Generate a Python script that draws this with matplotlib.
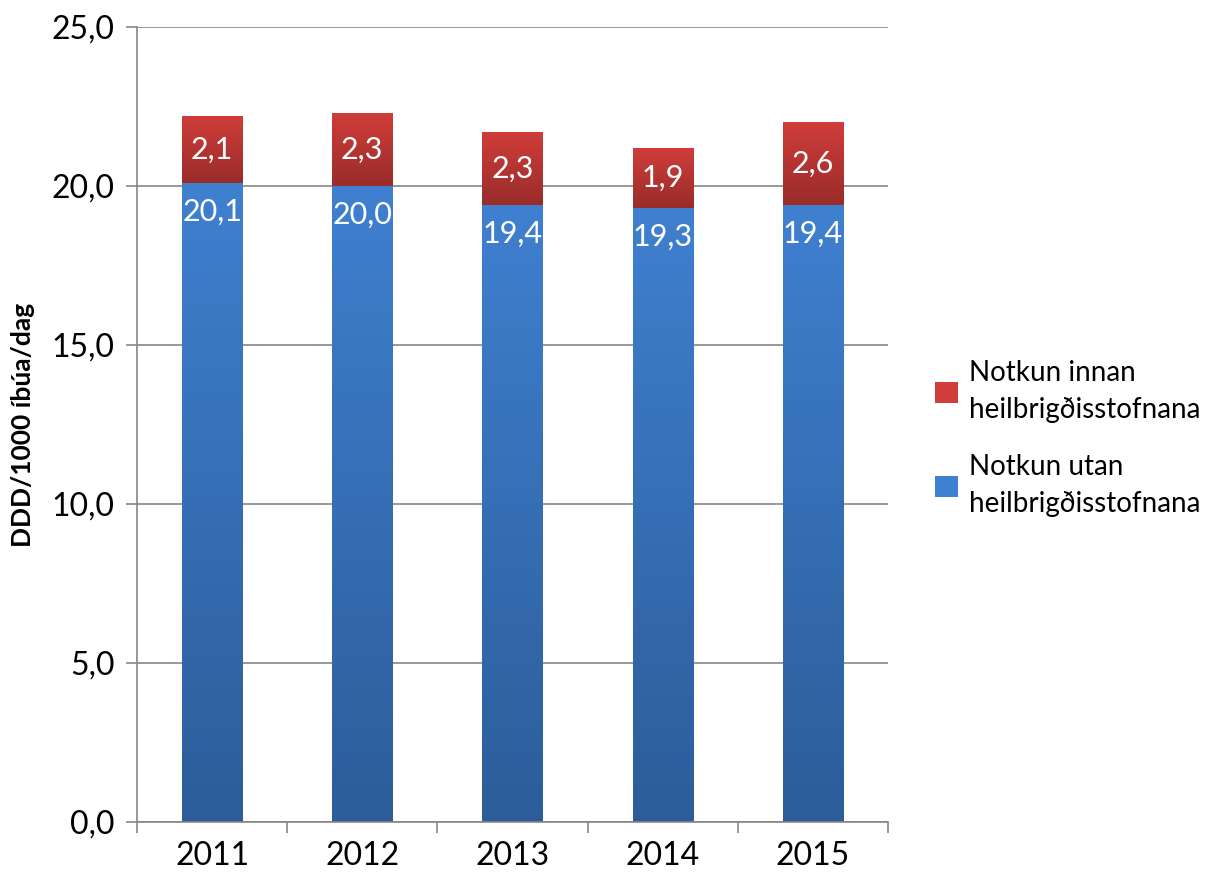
import numpy as np
import matplotlib
matplotlib.use("Agg")
import matplotlib.pyplot as plt
from matplotlib.colors import LinearSegmentedColormap
from matplotlib.patches import Patch

plt.rcParams['font.family'] = ['Lato', 'DejaVu Sans']

years = ['2011', '2012', '2013', '2014', '2015']
utan = [20.1, 20.0, 19.4, 19.3, 19.4]
innan = [2.1, 2.3, 2.3, 1.9, 2.6]
label_utan = 'Notkun utan\nheilbrigðisstofnana'
label_innan = 'Notkun innan\nheilbrigðisstofnana'
ylabel = 'DDD/1000 íbúa/dag'

blue_top, blue_bot = '#3f80d0', '#2c5d99'
red_top, red_bot = '#d03d3a', '#992c2a'

FS = 23

fig = plt.figure(figsize=(12.19, 8.77), dpi=100)
ax = fig.add_axes([0.1124, 0.0627, 0.616, 0.9065])

x = np.arange(len(years))
width = 0.4


def shade(bars, c_top, c_bot):
    cmap = LinearSegmentedColormap.from_list('g', [c_bot, c_top])
    grad = np.linspace(0, 1, 256).reshape(-1, 1)
    for b in bars:
        b.set_facecolor('none')
        b.set_edgecolor('none')
        x0, y0 = b.get_x(), b.get_y()
        im = ax.imshow(grad, cmap=cmap, aspect='auto', origin='lower',
                       extent=[x0, x0 + b.get_width(), y0, y0 + b.get_height()],
                       zorder=2, interpolation='bilinear')
        im.set_clip_path(b)


b1 = ax.bar(x, utan, width, zorder=2)
b2 = ax.bar(x, innan, width, bottom=utan, zorder=2)
shade(b1, blue_top, blue_bot)
shade(b2, red_top, red_bot)

fmt = lambda v: f'{v:.1f}'.replace('.', ',')
for xi, u, i in zip(x, utan, innan):
    ax.text(xi, u - 0.9, fmt(u), ha='center', va='center', color='white', fontsize=FS - 1, zorder=3)
    ax.text(xi, u + i / 2, fmt(i), ha='center', va='center', color='white', fontsize=FS - 1, zorder=3)

ax.set_xlim(-0.5, len(years) - 0.5)
ax.set_ylim(0, 25)
ax.set_yticks(np.arange(0, 25.1, 5))
ax.set_yticklabels([fmt(v) for v in np.arange(0, 25.1, 5)], fontsize=FS)
ax.set_xticks(x)
ax.set_xticklabels(years, fontsize=FS)
ax.set_xticks(np.arange(-0.5, len(years), 1), minor=True)
ax.tick_params(axis='x', which='major', length=0, pad=14)
ax.tick_params(axis='x', which='minor', length=8, color='#868686', width=1.2)
ax.tick_params(axis='y', length=8, color='#868686', width=1.2, pad=8)

ax.yaxis.grid(True, color='#868686', linewidth=1.2, zorder=0)
ax.set_axisbelow(True)
for s in ['top', 'right']:
    ax.spines[s].set_visible(False)
for s in ['left', 'bottom']:
    ax.spines[s].set_color('#868686')
    ax.spines[s].set_linewidth(1.2)

ax.set_ylabel(ylabel, fontsize=19, fontweight='bold', labelpad=12)

handles = [Patch(facecolor=red_top, edgecolor='none'), Patch(facecolor=blue_top, edgecolor='none')]
leg = fig.legend(handles, [label_innan, label_utan], loc='center left',
                 bbox_to_anchor=(0.756, 0.5), frameon=False, fontsize=20, borderpad=0,
                 handlelength=0.8, handleheight=0.8, handletextpad=0.4, labelspacing=1.1)
for t in leg.get_texts():
    t.set_linespacing(1.55)

fig.savefig('out.png', dpi=100)
